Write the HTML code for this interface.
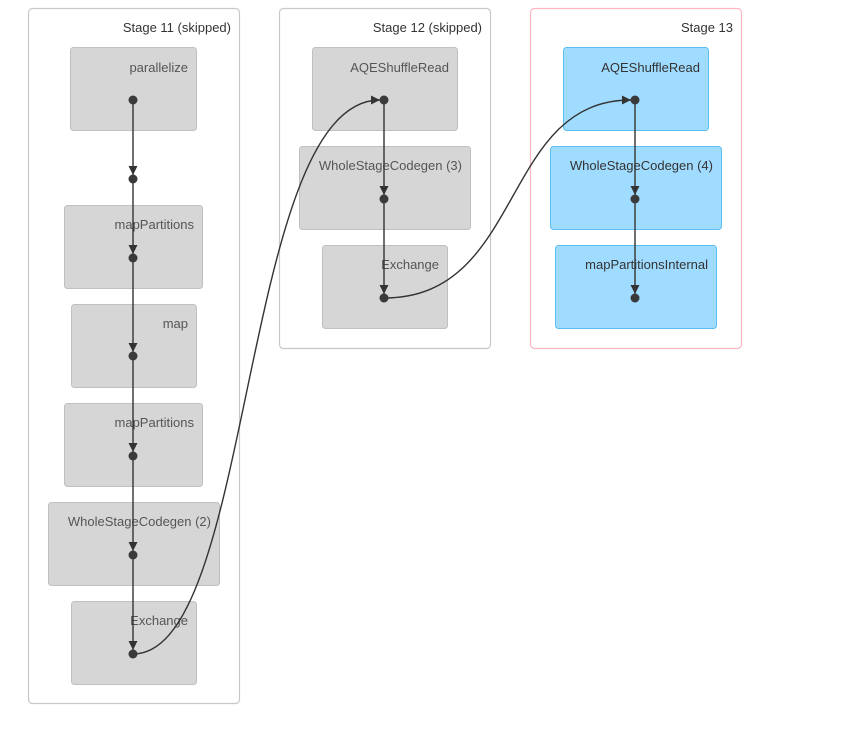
<!DOCTYPE html>
<html><head><meta charset="utf-8"><style>body{margin:0;background:#fff}svg{display:block}text{font-family:"Liberation Sans","DejaVu Sans",sans-serif;font-size:13px;text-anchor:end}</style></head><body>
<svg width="847" height="735" viewBox="0 0 847 735">
<defs><marker id="a" viewBox="0 0 10 10" refX="10" refY="5" markerWidth="9" markerHeight="9" markerUnits="userSpaceOnUse" orient="auto"><path d="M0,0L10,5L0,10z" fill="#333"/></marker></defs>
<g fill="none" stroke-width="1.2">
<rect x="28.5" y="8.5" width="211" height="695" rx="4" stroke="#c8c8c8"/>
<rect x="279.5" y="8.5" width="211" height="340" rx="4" stroke="#c8c8c8"/>
<rect x="530.5" y="8.5" width="211" height="340" rx="4" stroke="#ffb6c1"/>
</g>
<g fill="#333"><text x="231" y="32">Stage 11 (skipped)</text><text x="482" y="32">Stage 12 (skipped)</text><text x="733" y="32">Stage 13</text></g>
<g fill="#d6d6d6" stroke="#c0c0c0">
<rect x="70.5" y="47.5" width="126" height="83" rx="3"/>
<rect x="64.5" y="205.5" width="138" height="83" rx="3"/>
<rect x="71.5" y="304.5" width="125" height="83" rx="3"/>
<rect x="64.5" y="403.5" width="138" height="83" rx="3"/>
<rect x="48.5" y="502.5" width="171" height="83" rx="3"/>
<rect x="71.5" y="601.5" width="125" height="83" rx="3"/>
<rect x="312.5" y="47.5" width="145" height="83" rx="3"/>
<rect x="299.5" y="146.5" width="171" height="83" rx="3"/>
<rect x="322.5" y="245.5" width="125" height="83" rx="3"/>
</g>
<g fill="#a0dcff" stroke="#5cc0f0">
<rect x="563.5" y="47.5" width="145" height="83" rx="3"/>
<rect x="550.5" y="146.5" width="171" height="83" rx="3"/>
<rect x="555.5" y="245.5" width="161" height="83" rx="3"/>
</g>
<g fill="#555">
<text x="188" y="72">parallelize</text>
<text x="194" y="229">mapPartitions</text>
<text x="188" y="328">map</text>
<text x="194" y="427">mapPartitions</text>
<text x="211" y="526">WholeStageCodegen (2)</text>
<text x="188" y="625">Exchange</text>
<text x="449" y="72">AQEShuffleRead</text>
<text x="462" y="170">WholeStageCodegen (3)</text>
<text x="439" y="269">Exchange</text>
</g>
<g fill="#333">
<text x="700" y="72">AQEShuffleRead</text>
<text x="713" y="170">WholeStageCodegen (4)</text>
<text x="708" y="269">mapPartitionsInternal</text>
</g>
<g stroke="#333" stroke-width="1.4" fill="none" marker-end="url(#a)">
<path d="M133,100V175"/><path d="M133,179V254"/><path d="M133,258V352"/><path d="M133,356V452"/><path d="M133,456V551"/><path d="M133,555V650"/>
<path d="M384,100V195"/><path d="M384,199V294"/>
<path d="M635,100V195"/><path d="M635,199V294"/>
<path d="M133,654C255,654 240,100 380,100"/>
<path d="M384,298C525,298 500,100 631,100"/>
</g>
<g fill="#3a3a3a">
<circle cx="133" cy="100" r="4.5"/><circle cx="133" cy="179" r="4.5"/><circle cx="133" cy="258" r="4.5"/><circle cx="133" cy="356" r="4.5"/><circle cx="133" cy="456" r="4.5"/><circle cx="133" cy="555" r="4.5"/><circle cx="133" cy="654" r="4.5"/>
<circle cx="384" cy="100" r="4.5"/><circle cx="384" cy="199" r="4.5"/><circle cx="384" cy="298" r="4.5"/>
<circle cx="635" cy="100" r="4.5"/><circle cx="635" cy="199" r="4.5"/><circle cx="635" cy="298" r="4.5"/>
</g>
</svg>
</body></html>
